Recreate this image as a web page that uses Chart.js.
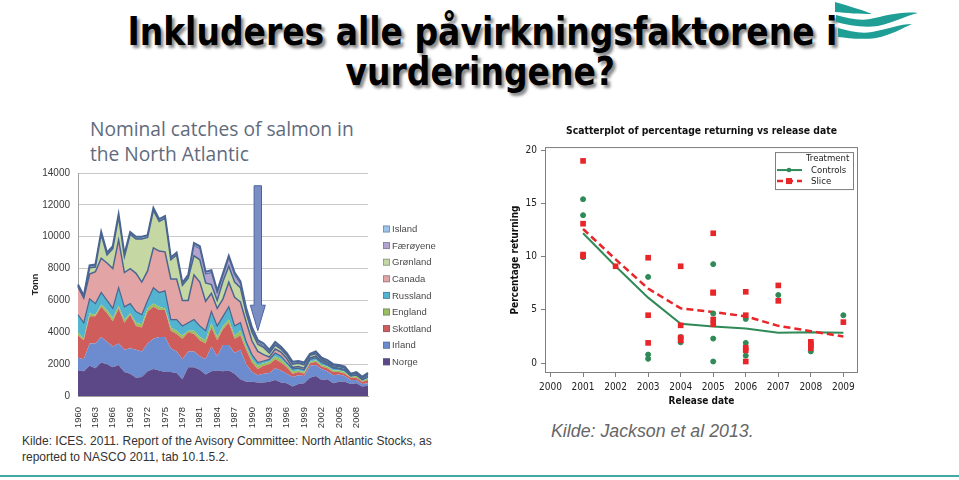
<!DOCTYPE html>
<html>
<head>
<meta charset="utf-8">
<script src="https://cdn.jsdelivr.net/npm/chart.js@4.4.0/dist/chart.umd.min.js"></script>
<style>
  html, body { margin: 0; padding: 0; background: #fff; }
  body { width: 959px; height: 480px; position: relative; overflow: hidden; }
  .ttl { position: absolute; left: 3px; width: 959px; text-align: center; white-space: nowrap;
         font-family: "DejaVu Sans Condensed", "DejaVu Sans", sans-serif; font-weight: bold;
         font-size: 39px; line-height: 40px; color: #000; text-shadow: 3px 3px 3px #8a8a8a; }
  .ttl span { display: inline-block; transform-origin: center; }
  #t1 { top: 12px; }
  #t2 { top: 52px; left: 1px; }
  #catchTitle { position: absolute; left: 90px; top: 116px; font-family: "Open Sans", sans-serif;
                font-size: 19.2px; line-height: 25px; color: #5f6b7d; }
  #leftBox { position: absolute; left: 0; top: 159px; width: 445px; height: 271px; }
  #rightBox { position: absolute; left: 500px; top: 120px; width: 370px; height: 295px; }
  #src1 { position: absolute; left: 22px; top: 433px; font-family: "Liberation Sans Narrow", "Liberation Sans", sans-serif;
          font-size: 12px; line-height: 16px; color: #333; }
  #src2 { position: absolute; left: 551px; top: 421px; font-family: "Liberation Sans", sans-serif; font-style: italic;
          font-size: 17.8px; line-height: 20px; color: #666; }
  #foot { position: absolute; left: 0; top: 475px; width: 959px; height: 2px; background: #3fa9a2; }
  #logo { position: absolute; left: 830px; top: 0; }
</style>
</head>
<body>
<div class="ttl" id="t1"><span>Inkluderes alle påvirkningsfaktorene i</span></div>
<div class="ttl" id="t2"><span>vurderingene?</span></div>
<svg id="logo" width="95" height="45" viewBox="830 0 95 45">
  <path d="M835 2 C 848 6, 860 9, 872 14 C 860 14, 846 13, 835 12 Z" fill="#1f9e96"/>
  <path d="M836 15 C 848 18, 858 21, 870 19 C 885 16, 900 11, 918 13 C 905 16, 895 22, 878 26 C 862 28, 848 25, 836 22 Z" fill="#1f9e96"/>
  <path d="M838 28 C 850 31, 860 34, 872 32 C 888 29, 900 24, 912 24 C 902 28, 892 35, 876 38 C 860 40, 848 38, 838 37 Z" fill="#1f9e96"/>
</svg>
<div id="catchTitle">Nominal catches of salmon in<br>the North Atlantic</div>
<div id="leftBox"><canvas id="catchChart"></canvas></div>
<div id="rightBox"><canvas id="returnChart"></canvas></div>
<div id="src1">Kilde: ICES. 2011. Report of the Avisory Committee: North Atlantic Stocks, as<br>reported to NASCO 2011, tab 10.1.5.2.</div>
<div id="src2">Kilde: Jackson et al 2013.</div>
<div id="foot"></div>

<script>
// Nominal catches (tonnes) per country, 1960-2010
const years = [1960, 1961, 1962, 1963, 1964, 1965, 1966, 1967, 1968, 1969,
  1970, 1971, 1972, 1973, 1974, 1975, 1976, 1977, 1978, 1979,
  1980, 1981, 1982, 1983, 1984, 1985, 1986, 1987, 1988, 1989,
  1990, 1991, 1992, 1993, 1994, 1995, 1996, 1997, 1998, 1999,
  2000, 2001, 2002, 2003, 2004, 2005, 2006, 2007, 2008, 2009, 2010];

const norge = [1600, 1550, 1900, 1750, 2100, 2000, 1800, 1950, 1500, 1400,
  1150, 1200, 1550, 1700, 1600, 1500, 1500, 1450, 1050, 1800,
  1800, 1650, 1350, 1550, 1600, 1550, 1600, 1400, 1050, 900,
  900, 850, 850, 900, 1000, 850, 800, 600, 750, 800,
  1150, 1250, 1000, 1050, 800, 900, 900, 750, 800, 600, 650];
const irland = [800, 750, 1400, 1550, 1600, 1400, 1300, 1350, 1400, 1600,
  1750, 1600, 1750, 1900, 2100, 2200, 1500, 1350, 1250, 1000,
  1000, 850, 950, 1550, 900, 1650, 1600, 1300, 1850, 1100,
  600, 450, 550, 550, 750, 750, 600, 600, 550, 450,
  750, 700, 700, 500, 500, 450, 350, 250, 200, 150, 150];
const skottland = [1400, 1200, 1700, 1700, 1900, 1800, 1600, 2200, 1700, 2100,
  1500, 1500, 2000, 2000, 1700, 1700, 1100, 1100, 1300, 1200,
  1100, 1000, 1000, 1200, 1000, 1000, 1400, 900, 900, 900,
  600, 400, 500, 550, 550, 500, 400, 200, 200, 150,
  150, 200, 150, 200, 200, 150, 150, 150, 150, 150, 200];
const england = [200, 100, 200, 100, 150, 200, 200, 150, 200, 100,
  200, 200, 200, 200, 200, 100, 200, 200, 200, 100,
  200, 200, 200, 300, 200, 200, 200, 200, 300, 200,
  200, 200, 150, 150, 200, 200, 150, 150, 100, 100,
  100, 100, 100, 100, 100, 100, 100, 50, 100, 50, 100];
const russland = [1100, 1000, 900, 700, 750, 600, 600, 1150, 800, 600,
  700, 600, 500, 1000, 900, 1100, 500, 700, 600, 500,
  700, 700, 600, 700, 700, 600, 800, 600, 500, 300,
  300, 200, 150, 150, 200, 200, 150, 150, 150, 150,
  150, 150, 150, 100, 150, 100, 100, 50, 50, 50, 100];
const canada = [1750, 1550, 1550, 2000, 2150, 2350, 2500, 3000, 2150, 2200,
  2400, 2050, 1850, 2500, 2600, 2450, 2550, 2550, 1600, 1400,
  2800, 2750, 1850, 1150, 1100, 1100, 1550, 1800, 1300, 1250,
  850, 700, 400, 150, 250, 250, 250, 100, 100, 100,
  100, 100, 100, 50, 50, 50, 50, 30, 30, 30, 30];
const gronland = [50, 50, 400, 300, 1500, 500, 1250, 1450, 1000, 2150,
  2150, 2700, 2100, 2350, 1850, 2100, 1200, 1500, 950, 1400,
  1200, 1400, 1150, 550, 500, 1100, 1000, 950, 900, 550,
  550, 450, 450, 250, 250, 200, 200, 200, 200, 200,
  150, 150, 100, 100, 100, 100, 100, 70, 90, 90, 120];
const faroyene = [0, 0, 0, 0, 0, 0, 0, 0, 0, 0,
  0, 0, 0, 0, 0, 0, 0, 0, 0, 50,
  650, 700, 550, 750, 450, 350, 500, 450, 250, 150,
  150, 150, 100, 80, 80, 50, 50, 50, 50, 50,
  50, 50, 50, 50, 50, 50, 50, 20, 30, 30, 30];
const island = [100, 100, 150, 150, 150, 150, 150, 150, 150, 150,
  150, 150, 150, 150, 150, 150, 150, 150, 150, 150,
  150, 150, 150, 150, 150, 150, 150, 150, 150, 150,
  150, 100, 150, 120, 120, 100, 100, 100, 100, 100,
  50, 100, 50, 100, 50, 50, 50, 30, 50, 50, 70];

// Percentage returning vs release date
const releaseYears = [2001, 2002, 2003, 2004, 2005, 2006, 2007, 2008, 2009];
const xTicks = [2000, 2001, 2002, 2003, 2004, 2005, 2006, 2007, 2008, 2009];
const yTicks = [0, 5, 10, 15, 20];
const controlsMean = [12.2, 9.1, 6.15, 3.7, 3.45, 3.25, 2.85, 2.9, 2.85];
const sliceMean = [12.6, 9.75, 7.0, 5.15, 4.8, 4.4, 3.5, 3.0, 2.5];
const controlsX = [2001, 2001, 2001, 2003, 2003, 2003, 2004, 2004, 2005, 2005, 2005, 2005, 2006, 2006, 2006, 2007, 2008, 2009];
const controlsY = [15.4, 13.9, 9.95, 8.1, 0.8, 0.4, 2.45, 1.95, 9.3, 4.65, 2.3, 0.15, 4.15, 1.9, 0.7, 6.4, 1.1, 4.5];
const sliceX = [2001, 2001, 2001, 2001, 2002, 2003, 2003, 2003, 2004, 2004, 2004, 2004, 2005, 2005, 2005, 2005, 2005,
  2006, 2006, 2006, 2006, 2006, 2007, 2007, 2008, 2008, 2008, 2008, 2009];
const sliceY = [19.0, 13.1, 10.2, 10.05, 9.1, 9.9, 4.5, 1.9, 9.1, 3.55, 2.4, 2.15, 12.2, 6.65, 6.6, 4.1, 3.65,
  6.7, 4.5, 1.45, 1.2, 0.15, 7.3, 5.85, 2.0, 1.8, 1.6, 1.4, 3.85];

// squeeze the big heading to the slide width
const l1 = document.querySelector('#t1 span');
const k = 710 / l1.getBoundingClientRect().width;
document.querySelectorAll('.ttl span').forEach(s => s.style.transform = 'scaleX(' + k + ')');

const edge = '#4a6591';
const countries = [
  ['Norge', norge, '#5c4887', 0],
  ['Irland', irland, '#6c8ccf', 0],
  ['Skottland', skottland, '#cf5d5b', 0],
  ['England', england, '#9bbf5e', 0],
  ['Russland', russland, '#54b3cf', 1.2],
  ['Canada', canada, '#e3a4a5', 1.5],
  ['Grønland', gronland, '#c5d8a4', 1.5],
  ['Færøyene', faroyene, '#b2a3d1', 1],
  ['Island', island, '#9dc3e6', 2]
];

// the vertical arrow pointing at 1991, plus the country legend to the right
const catchExtras = {
  id: 'catchExtras',
  afterDatasetsDraw(chart) {
    const {ctx, scales: {x, y}} = chart;
    const cx = x.getPixelForValue(31);
    const top = y.getPixelForValue(13200), neck = y.getPixelForValue(5700), tip = y.getPixelForValue(4100);
    ctx.save();
    ctx.beginPath();
    ctx.moveTo(cx - 3.7, top);
    ctx.lineTo(cx + 3.7, top);
    ctx.lineTo(cx + 3.7, neck);
    ctx.lineTo(cx + 7.5, neck);
    ctx.lineTo(cx, tip);
    ctx.lineTo(cx - 7.5, neck);
    ctx.lineTo(cx - 3.7, neck);
    ctx.closePath();
    ctx.fillStyle = '#7b8ec4';
    ctx.fill();
    ctx.strokeStyle = '#4f63a0';
    ctx.lineWidth = 1;
    ctx.stroke();
    ctx.restore();
  },
  afterDraw(chart) {
    const {ctx, chartArea: a} = chart;
    const ds = chart.data.datasets;
    ctx.save();
    ctx.font = '9.5px "Liberation Sans"';
    ctx.textBaseline = 'middle';
    for (let j = 0; j < ds.length; j++) {
      const d = ds[ds.length - 1 - j];
      const yy = a.top + 56 + j * 16.6;
      ctx.fillStyle = d.backgroundColor;
      ctx.fillRect(a.right + 15, yy - 3.5, 7, 7);
      ctx.strokeStyle = 'rgba(80,90,120,0.6)';
      ctx.lineWidth = 0.7;
      ctx.strokeRect(a.right + 15.5, yy - 3, 6, 6);
      ctx.fillStyle = '#4a4a4a';
      ctx.fillText(d.label, a.right + 24, yy + 0.5);
    }
    ctx.restore();
  }
};

new Chart(document.getElementById('catchChart'), {
  type: 'line',
  data: {
    labels: years,
    datasets: countries.map((c, i) => ({
      label: c[0],
      data: c[1],
      backgroundColor: c[2],
      borderColor: c[3] ? edge : c[2],
      borderWidth: c[3],
      fill: i === 0 ? 'origin' : '-1',
      pointRadius: 0,
      tension: 0
    }))
  },
  options: {
    responsive: true,
    maintainAspectRatio: false,
    animation: false,
    layout: { padding: { top: 2, right: 77, left: 0, bottom: 0 } },
    plugins: {
      tooltip: { enabled: false },
      legend: { display: false }
    },
    scales: {
      x: {
        grid: { display: false },
        border: { color: '#a0a0a0' },
        afterFit: s => { s.height = 34; },
        ticks: {
          autoSkip: false, minRotation: 90, maxRotation: 90, padding: 3, color: '#333',
          font: { family: 'Liberation Sans', size: 9.5 },
          callback: function (v, i) { return i % 3 === 0 ? this.getLabelForValue(v) : ''; }
        }
      },
      y: {
        stacked: true,
        min: 0, max: 14000,
        afterFit: s => { s.width = 78; },
        grid: { color: '#c9c9c9', drawTicks: false },
        border: { color: '#a0a0a0' },
        ticks: { stepSize: 2000, padding: 8, color: '#3a3a3a', font: { family: 'Liberation Sans', size: 10 },
                 callback: v => String(v) },
        title: { display: true, text: 'Tonn', color: '#222', padding: { top: 30, bottom: 0 },
                 font: { family: 'Liberation Sans', size: 9, weight: 'bold' } }
      }
    }
  },
  plugins: [catchExtras]
});

// frame and legend of the scatterplot
const framePlugin = {
  id: 'frame',
  afterDraw(chart) {
    const {ctx, chartArea: a} = chart;
    ctx.save();
    ctx.strokeStyle = '#7f7f7f';
    ctx.lineWidth = 1;
    ctx.strokeRect(a.left + 0.5, a.top + 0.5, a.width - 1, a.height - 1);
    const bx = a.right - 83, by = a.top + 5, bw = 78, bh = 37;
    ctx.fillStyle = '#fff';
    ctx.fillRect(bx, by, bw, bh);
    ctx.strokeRect(bx + 0.5, by + 0.5, bw, bh);
    ctx.fillStyle = '#222';
    ctx.font = '9.5px "DejaVu Sans Condensed", "DejaVu Sans"';
    ctx.textBaseline = 'middle';
    ctx.fillText('Treatment', bx + 31, by + 6.5);
    ctx.fillText('Controls', bx + 36, by + 18);
    ctx.fillText('Slice', bx + 36, by + 29);
    ctx.lineWidth = 2;
    ctx.strokeStyle = '#2f8a57';
    ctx.beginPath(); ctx.moveTo(bx + 2, by + 18); ctx.lineTo(bx + 27, by + 18); ctx.stroke();
    ctx.fillStyle = '#2f8a57';
    ctx.beginPath(); ctx.arc(bx + 14, by + 18, 2.3, 0, Math.PI * 2); ctx.fill();
    ctx.lineWidth = 2.5;
    ctx.strokeStyle = '#e8262a';
    ctx.setLineDash([6, 4]);
    ctx.beginPath(); ctx.moveTo(bx + 2, by + 29); ctx.lineTo(bx + 27, by + 29); ctx.stroke();
    ctx.setLineDash([]);
    ctx.fillStyle = '#e8262a';
    ctx.fillRect(bx + 11, by + 26, 6, 6);
    ctx.restore();
  }
};

const tickFont = { family: 'DejaVu Sans Condensed', size: 10 };
const titleFont = { family: 'DejaVu Sans Condensed', size: 10, weight: 'bold' };

new Chart(document.getElementById('returnChart'), {
  type: 'scatter',
  data: {
    datasets: [
      {
        label: 'Controls points',
        data: controlsX.map((x, i) => ({ x: x, y: controlsY[i] })),
        backgroundColor: '#2f8a57', borderColor: '#2f8a57',
        pointStyle: 'circle', pointRadius: 2.5, order: 1
      },
      {
        label: 'Slice points',
        data: sliceX.map((x, i) => ({ x: x, y: sliceY[i] })),
        backgroundColor: '#e8262a', borderColor: '#e8262a',
        pointStyle: 'rect', pointRadius: 4, borderWidth: 0, order: 0
      },
      {
        type: 'line',
        label: 'Controls',
        data: releaseYears.map((x, i) => ({ x: x, y: controlsMean[i] })),
        borderColor: '#2f8a57', borderWidth: 2, pointRadius: 0, fill: false, order: 3
      },
      {
        type: 'line',
        label: 'Slice',
        data: releaseYears.map((x, i) => ({ x: x, y: sliceMean[i] })),
        borderColor: '#e8262a', borderWidth: 2.5, borderDash: [7, 4], pointRadius: 0, fill: false, order: 2
      }
    ]
  },
  options: {
    responsive: true,
    maintainAspectRatio: false,
    animation: false,
    layout: { padding: { top: 0, right: 12, left: 0, bottom: 0 } },
    plugins: {
      legend: { display: false },
      tooltip: { enabled: false },
      title: {
        display: true,
        fullSize: false,
        text: 'Scatterplot of percentage returning vs release date',
        color: '#111',
        font: { family: 'DejaVu Sans Condensed', size: 10.3, weight: 'bold' },
        padding: { top: 5, bottom: 9.7 }
      }
    },
    scales: {
      x: {
        type: 'linear',
        min: 1999.83, max: 2009.45,
        afterFit: s => { s.height = 42; },
        afterBuildTicks: s => { s.ticks = xTicks.map(v => ({ value: v })); },
        grid: { drawOnChartArea: false, drawTicks: true, tickLength: 4, color: '#7f7f7f' },
        border: { display: false },
        ticks: { padding: 4, color: '#222', font: tickFont, callback: v => String(v) },
        title: { display: true, text: 'Release date', color: '#111', font: titleFont, padding: { top: 0, bottom: 8 } }
      },
      y: {
        min: -0.93, max: 20.3,
        afterFit: s => { s.width = 45; },
        afterBuildTicks: s => { s.ticks = yTicks.map(v => ({ value: v })); },
        grid: { drawOnChartArea: false, drawTicks: true, tickLength: 4, color: '#7f7f7f' },
        border: { display: false },
        ticks: { padding: 4, color: '#222', font: tickFont },
        title: { display: true, text: 'Percentage returning', color: '#111', font: titleFont, padding: { top: 9, bottom: 0 } }
      }
    }
  },
  plugins: [framePlugin]
});
</script>
</body>
</html>
